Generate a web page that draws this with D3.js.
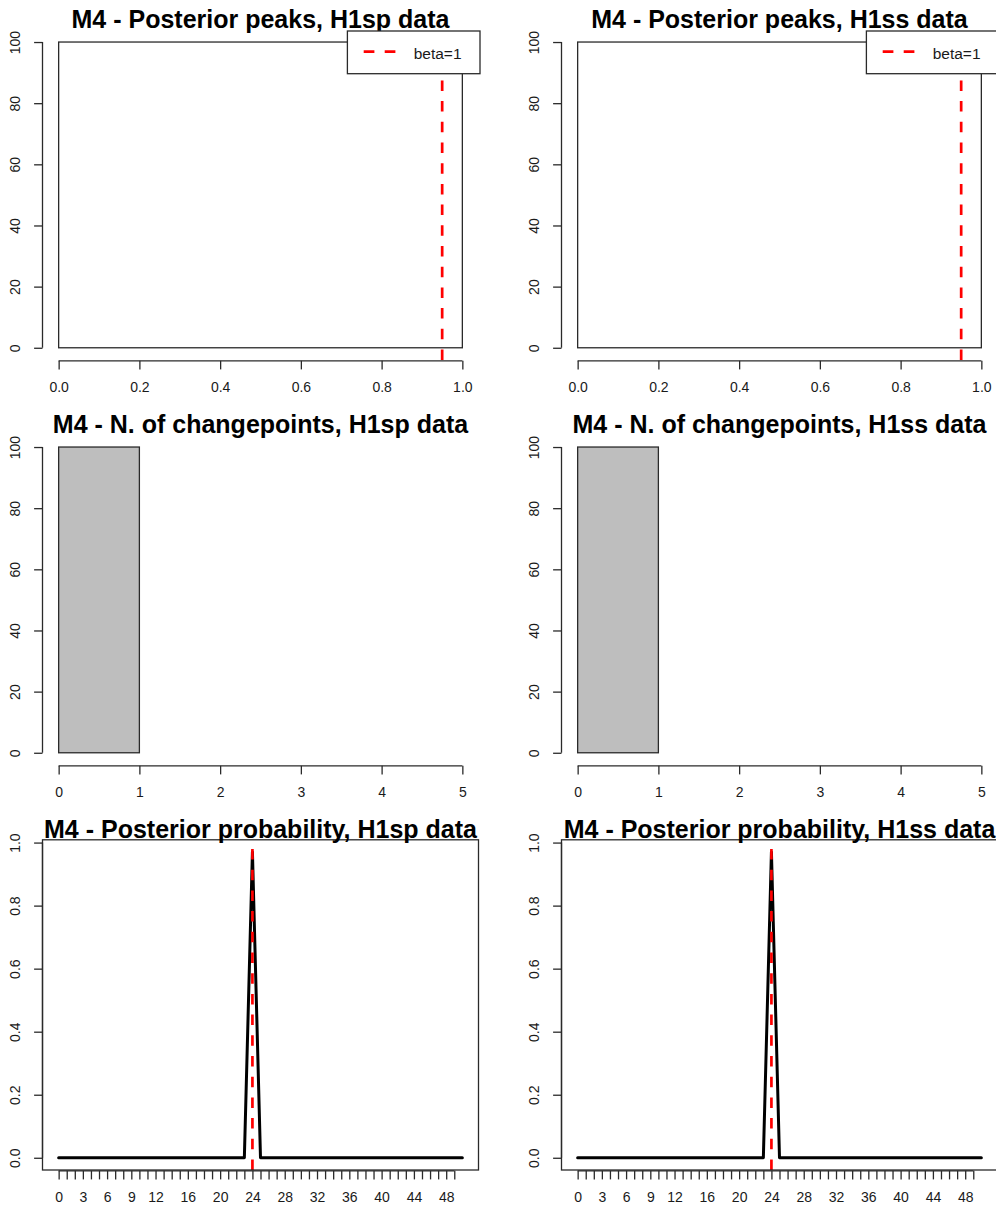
<!DOCTYPE html>
<html>
<head>
<meta charset="utf-8">
<script src="https://cdn.jsdelivr.net/npm/d3@7"></script>
<style>
  html, body { margin: 0; padding: 0; background: #fff; }
  svg { display: block; }
  text { font-family: "Liberation Sans", Arial, sans-serif; }
</style>
</head>
<body>
<svg id="chart" width="996" height="1205"></svg>
<script>
// ---- data -------------------------------------------------------------
// Posterior peak histograms (bin edges + counts)
const peakBreaks = [0, 1];
const peakCountsSp = [100];
const peakCountsSs = [100];
const peakXTicks = [0, 0.2, 0.4, 0.6, 0.8, 1.0];
const betaLine = 0.95;

// Number of changepoints histograms
const cpBreaks = [0, 1];
const cpCountsSp = [100];
const cpCountsSs = [100];
const cpXTicks = [0, 1, 2, 3, 4, 5];

const histYTicks = [0, 20, 40, 60, 80, 100];

// Posterior probability of a changepoint at each position
const positions = [
  0, 1, 2, 3, 4, 5, 6, 7, 8, 9, 10, 11, 12, 13, 14, 15, 16, 17, 18, 19,
  20, 21, 22, 23, 24, 25, 26, 27, 28, 29, 30, 31, 32, 33, 34, 35, 36, 37, 38, 39,
  40, 41, 42, 43, 44, 45, 46, 47, 48, 49, 50
];
const postProbSp = [
  0, 0, 0, 0, 0, 0, 0, 0, 0, 0, 0, 0, 0, 0, 0, 0, 0, 0, 0, 0,
  0, 0, 0, 0, 0.97, 0, 0, 0, 0, 0, 0, 0, 0, 0, 0, 0, 0, 0, 0, 0,
  0, 0, 0, 0, 0, 0, 0, 0, 0, 0, 0
];
const postProbSs = [
  0, 0, 0, 0, 0, 0, 0, 0, 0, 0, 0, 0, 0, 0, 0, 0, 0, 0, 0, 0,
  0, 0, 0, 0, 0.97, 0, 0, 0, 0, 0, 0, 0, 0, 0, 0, 0, 0, 0, 0, 0,
  0, 0, 0, 0, 0, 0, 0, 0, 0, 0, 0
];
const trueChangepoint = 24;
const probXTicks = [
  0, 1, 2, 3, 4, 5, 6, 7, 8, 9, 10, 11, 12, 13, 14, 15, 16, 17, 18, 19,
  20, 21, 22, 23, 24, 25, 26, 27, 28, 29, 30, 31, 32, 33, 34, 35, 36, 37, 38, 39,
  40, 41, 42, 43, 44, 45, 46, 47, 48, 49
];
const probXLabels = [0, 3, 6, 9, 12, 16, 20, 24, 28, 32, 36, 40, 44, 48];
const probYTicks = [0, 0.2, 0.4, 0.6, 0.8, 1.0];

const titles = [
  ["M4 - Posterior peaks, H1sp data", "M4 - Posterior peaks, H1ss data"],
  ["M4 - N. of changepoints, H1sp data", "M4 - N. of changepoints, H1ss data"],
  ["M4 - Posterior probability, H1sp data", "M4 - Posterior probability, H1ss data"]
];

// ---- layout ----------------------------------------------------------
const colOffset = [0, 519];
const rowOffset = [0, 405, 810];
const region = { left: 42.5, right: 478.5, top: 29.8, bottom: 360 };
const ink = "#2a2a2a";
const labelInk = "#1a1a1a";
const axisFont = 14;

const svg = d3.select("#chart");

// R-style padded domain (4% each side)
function padded(lo, hi) {
  const d = (hi - lo) * 0.04;
  return [lo - d, hi + d];
}

function drawTitle(g, text) {
  g.append("text")
    .attr("x", (region.left + region.right) / 2)
    .attr("y", 28.3)
    .attr("text-anchor", "middle")
    .attr("font-weight", "bold")
    .attr("font-size", 25)
    .attr("fill", "#000")
    .text(text);
}

function drawYAxis(g, y, ticks, fmt) {
  const ax = d3.axisLeft(y).tickValues(ticks).tickSize(8.4).tickSizeOuter(0).tickFormat(fmt);
  const a = g.append("g").attr("transform", `translate(${region.left},0)`).call(ax);
  a.select(".domain").remove();
  a.selectAll(".tick line").attr("stroke", ink).attr("stroke-width", 1.3);
  a.selectAll(".tick text")
    .attr("x", null).attr("dy", null)
    .attr("transform", "translate(-22.8,0) rotate(-90)")
    .attr("text-anchor", "middle")
    .attr("font-size", axisFont)
    .attr("font-family", "'Liberation Sans', Arial, sans-serif")
    .attr("fill", labelInk);
  g.append("line")
    .attr("x1", region.left).attr("x2", region.left)
    .attr("y1", y(ticks[0])).attr("y2", y(ticks[ticks.length - 1]))
    .attr("stroke", ink).attr("stroke-width", 1.3);
}

function drawXAxis(g, x, ticks, fmt) {
  const ax = d3.axisBottom(x).tickValues(ticks).tickSize(8.6).tickSizeOuter(0).tickFormat(fmt);
  const a = g.append("g").attr("transform", `translate(0,${region.bottom + 0.8})`).call(ax);
  a.select(".domain").remove();
  a.selectAll(".tick line").attr("stroke", ink).attr("stroke-width", 1.3);
  a.selectAll(".tick text")
    .attr("y", 31).attr("dy", null)
    .attr("font-size", axisFont)
    .attr("font-family", "'Liberation Sans', Arial, sans-serif")
    .attr("fill", labelInk);
  g.append("line")
    .attr("x1", x(ticks[0])).attr("x2", x(ticks[ticks.length - 1]))
    .attr("y1", region.bottom + 0.8).attr("y2", region.bottom + 0.8)
    .attr("stroke", ink).attr("stroke-width", 1.3);
}

function drawVLine(g, x, y, v) {
  const yr = y.domain();
  g.append("line")
    .attr("x1", x(v)).attr("x2", x(v))
    .attr("y1", y(yr[0])).attr("y2", y(yr[1]))
    .attr("stroke", "#ff0000").attr("stroke-width", 2.7)
    .attr("stroke-dasharray", "10.5,10.2");
}

// Histogram panel (bars from bin edges + counts)
function histPanel(g, breaks, counts, xTicks, fill, title, withBeta) {
  const x = d3.scaleLinear().domain(padded(xTicks[0], xTicks[xTicks.length - 1]))
    .range([region.left, region.right]);
  const y = d3.scaleLinear().domain(padded(0, 100)).range([region.bottom, region.top]);
  drawTitle(g, title);
  const bins = counts.map((c, i) => ({ x0: breaks[i], x1: breaks[i + 1], n: c }));
  g.selectAll("rect.bar").data(bins).join("rect")
    .attr("class", "bar")
    .attr("x", d => x(d.x0)).attr("width", d => x(d.x1) - x(d.x0))
    .attr("y", d => y(d.n)).attr("height", d => y(0) - y(d.n))
    .attr("fill", fill).attr("stroke", ink).attr("stroke-width", 1.3);
  drawYAxis(g, y, histYTicks, d3.format("d"));
  drawXAxis(g, x, xTicks, fill === "#ffffff" ? d3.format(".1f") : d3.format("d"));
  if (withBeta) {
    drawVLine(g, x, y, betaLine);
    // legend, top-right corner of the plotting region
    const lw = 132.6, lh = 42.7;
    const lx = region.right + 1.5 - lw, ly = region.top + 1.2;
    const lg = g.append("g");
    lg.append("rect").attr("x", lx).attr("y", ly).attr("width", lw).attr("height", lh)
      .attr("fill", "#fff").attr("stroke", ink).attr("stroke-width", 1.3);
    lg.append("line")
      .attr("x1", lx + 16.3).attr("x2", lx + 49)
      .attr("y1", ly + 20.7).attr("y2", ly + 20.7)
      .attr("stroke", "#ff0000").attr("stroke-width", 2.7)
      .attr("stroke-dasharray", "10.7,10.3");
    lg.append("text").attr("x", lx + 66.3).attr("y", ly + 28.3)
      .attr("font-size", 15.5).attr("fill", labelInk).text("beta=1");
  }
}

// Posterior probability panel (line over positions, framed)
function probPanel(g, probs, title) {
  const x = d3.scaleLinear().domain(padded(positions[0], positions[positions.length - 1]))
    .range([region.left, region.right]);
  const y = d3.scaleLinear().domain(padded(0, d3.max(probs))).range([region.bottom, region.top]);
  const line = d3.line().x((d, i) => x(positions[i])).y(d => y(d));
  g.append("path").datum(probs)
    .attr("d", line)
    .attr("fill", "none").attr("stroke", "#000").attr("stroke-width", 3)
    .attr("stroke-linejoin", "round").attr("stroke-linecap", "round");
  drawVLine(g, x, y, trueChangepoint);
  g.append("rect")
    .attr("x", region.left).attr("y", region.top)
    .attr("width", region.right - region.left).attr("height", region.bottom - region.top)
    .attr("fill", "none").attr("stroke", ink).attr("stroke-width", 1.3);
  drawYAxis(g, y, probYTicks, d3.format(".1f"));
  drawXAxis(g, x, probXTicks, d => probXLabels.includes(d) ? String(d) : "");
  drawTitle(g, title);
}

const panels = [
  [g => histPanel(g, peakBreaks, peakCountsSp, peakXTicks, "#ffffff", titles[0][0], true),
   g => histPanel(g, peakBreaks, peakCountsSs, peakXTicks, "#ffffff", titles[0][1], true)],
  [g => histPanel(g, cpBreaks, cpCountsSp, cpXTicks, "#bebebe", titles[1][0], false),
   g => histPanel(g, cpBreaks, cpCountsSs, cpXTicks, "#bebebe", titles[1][1], false)],
  [g => probPanel(g, postProbSp, titles[2][0]),
   g => probPanel(g, postProbSs, titles[2][1])]
];

panels.forEach((row, r) => row.forEach((fn, c) => {
  const g = svg.append("g").attr("transform", `translate(${colOffset[c]},${rowOffset[r]})`);
  fn(g);
}));
</script>
</body>
</html>
